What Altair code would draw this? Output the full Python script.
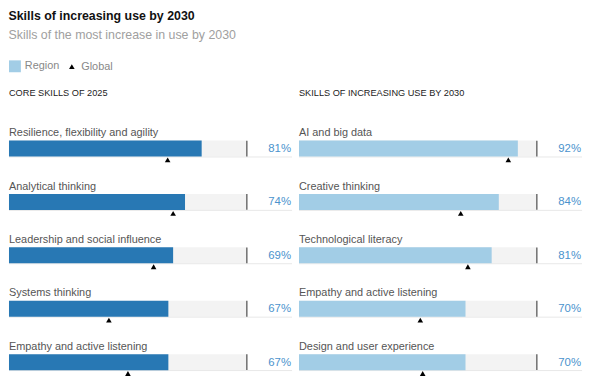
import altair as alt
import pandas as pd

FONT = "Liberation Sans, Arial, Helvetica, sans-serif"

panels = ["CORE SKILLS OF 2025", "SKILLS OF INCREASING USE BY 2030"]
core_skills = [
    "Resilience, flexibility and agility",
    "Analytical thinking",
    "Leadership and social influence",
    "Systems thinking",
    "Empathy and active listening",
]
core_region = [0.81, 0.74, 0.69, 0.67, 0.67]
core_global = [0.667, 0.69, 0.608, 0.42, 0.50]

rising_skills = [
    "AI and big data",
    "Creative thinking",
    "Technological literacy",
    "Empathy and active listening",
    "Design and user experience",
]
rising_region = [0.92, 0.84, 0.81, 0.70, 0.70]
rising_global = [0.88, 0.68, 0.71, 0.51, 0.52]

legend_items = ["Region", "Global"]

XMAX = 1.19

rows = []
for panel, skills, reg, glo in [
    (panels[0], core_skills, core_region, core_global),
    (panels[1], rising_skills, rising_region, rising_global),
]:
    for i, (s, r, g) in enumerate(zip(skills, reg, glo)):
        rows.append({"panel": panel, "rank": i, "skill": s, "region": r,
                     "global": g, "zero": 0.0, "full": 1.0, "xmax": XMAX,
                     "series": "Global"})
df = pd.DataFrame(rows)

x_scale = alt.Scale(domain=[0, XMAX], nice=False, zero=True)
y_enc = alt.Y("rank:O", axis=None,
              scale=alt.Scale(paddingInner=0.7, paddingOuter=0.176, align=1))

base = alt.Chart(df)

bg = base.mark_bar(color="#f3f3f3").encode(
    x=alt.X("zero:Q", scale=x_scale, axis=None), x2="full:Q", y=y_enc
)

baseline = base.mark_rule(color="#e8e8e8", strokeWidth=1, yOffset=8.5).encode(
    x=alt.X("zero:Q", scale=x_scale, axis=None), x2="xmax:Q", y=y_enc
)

bars = base.mark_bar().encode(
    x=alt.X("region:Q", scale=x_scale, axis=None),
    y=y_enc,
    fill=alt.Fill("panel:N", legend=None,
                  scale=alt.Scale(domain=panels, range=["#2878b4", "#a2cde6"])),
)

ticks = base.mark_tick(color="black", thickness=1.2, size=16).encode(
    x=alt.X("full:Q", scale=x_scale, axis=None), y=y_enc
)

tri = base.mark_point(filled=True, opacity=1, yOffset=11.5).encode(
    x=alt.X("global:Q", scale=x_scale, axis=None),
    y=y_enc,
    color=alt.Color("series:N", title=None,
                    scale=alt.Scale(domain=legend_items, range=["#a2cde6", "black"])),
    shape=alt.Shape("series:N", title=None,
                    scale=alt.Scale(domain=legend_items, range=["square", "triangle-up"])),
    size=alt.Size("series:N", title=None,
                  scale=alt.Scale(domain=legend_items, range=[144, 32])),
)

labels = base.mark_text(align="left", baseline="alphabetic", dy=-12.5,
                        font=FONT, fontSize=11, color="#555555").encode(
    x=alt.X("zero:Q", scale=x_scale, axis=None), y=y_enc, text="skill:N"
)

pct = base.mark_text(align="right", baseline="middle", dx=-1, dy=0.5,
                     font=FONT, fontSize=11.5, color="#4b93cd").encode(
    x=alt.X("xmax:Q", scale=x_scale, axis=None), y=y_enc,
    text=alt.Text("region:Q", format=".0%"),
)

layered = alt.layer(bg, baseline, bars, ticks, tri, labels, pct).properties(
    width=286, height=251
)

chart = layered.facet(
    column=alt.Column("panel:N", title=None, sort=panels,
                      header=alt.Header(labelAnchor="start", labelAlign="left",
                                        labelFont=FONT, labelFontSize=9.3,
                                        labelColor="#222222", labelPadding=24)),
    spacing=5,
).properties(
    title=alt.TitleParams(
        "Skills of increasing use by 2030",
        subtitle="Skills of the most increase in use by 2030",
        anchor="start", font=FONT, fontSize=12.5, fontWeight="bold",
        color="#111111", subtitleFont=FONT, subtitleFontSize=12.5,
        subtitleColor="#a0a0a0", subtitlePadding=7, offset=19,
    ),
    padding={"left": 0, "top": 0, "right": 5, "bottom": 0},
).configure_view(stroke=None).configure_legend(
    orient="top", direction="horizontal", labelFont=FONT, labelFontSize=11,
    labelColor="#888888", labelOffset=4, columnPadding=7, offset=16,
    symbolStrokeWidth=0,
)

chart.save("out.html", embed_options={"renderer": "svg", "actions": False})
